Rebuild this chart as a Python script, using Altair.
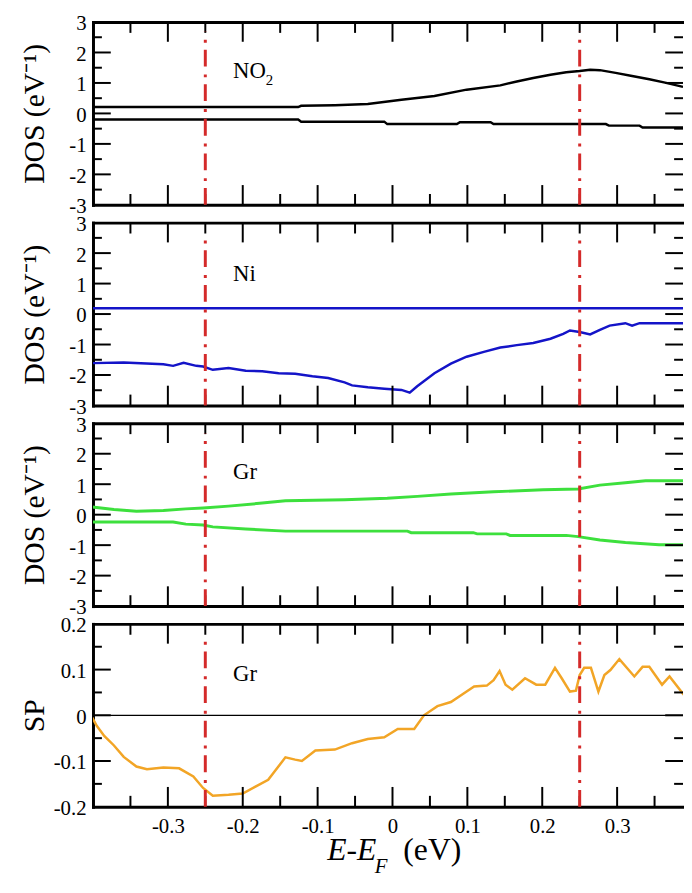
import altair as alt
import pandas as pd

FONT = "Liberation Serif"
X_DOMAIN = [-0.4, 0.388]
W, H = 597, 185

# ---- data ----
no2_up_x = [-0.40, -0.126, -0.122, -0.077, -0.033, 0.012, 0.056, 0.099, 0.144, 0.166, 0.188, 0.211, 0.232, 0.250, 0.264, 0.277, 0.298, 0.320, 0.343, 0.364, 0.388]
no2_up_y = [0.21, 0.21, 0.25, 0.27, 0.31, 0.45, 0.57, 0.78, 0.92, 1.05, 1.16, 1.27, 1.35, 1.39, 1.43, 1.42, 1.33, 1.23, 1.12, 1.01, 0.87]
no2_dn_x = [-0.40, -0.126, -0.122, -0.011, -0.007, 0.086, 0.090, 0.131, 0.135, 0.285, 0.289, 0.330, 0.334, 0.388]
no2_dn_y = [-0.20, -0.20, -0.27, -0.27, -0.35, -0.35, -0.29, -0.29, -0.35, -0.35, -0.40, -0.40, -0.46, -0.46]

ni_up_x = [-0.40, 0.389]
ni_up_y = [0.19, 0.19]
ni_dn_x = [-0.401, -0.359, -0.306, -0.293, -0.279, -0.262, -0.253, -0.240, -0.219, -0.196, -0.174, -0.152, -0.130, -0.107, -0.086, -0.064, -0.054, -0.033, -0.011, 0.012, 0.023, 0.033, 0.056, 0.078, 0.099, 0.122, 0.144, 0.166, 0.188, 0.211, 0.228, 0.237, 0.250, 0.264, 0.277, 0.290, 0.311, 0.320, 0.330, 0.389]
ni_dn_y = [-1.61, -1.59, -1.65, -1.70, -1.60, -1.70, -1.72, -1.83, -1.77, -1.86, -1.88, -1.94, -1.96, -2.04, -2.10, -2.24, -2.34, -2.40, -2.45, -2.49, -2.58, -2.37, -1.94, -1.63, -1.40, -1.24, -1.10, -1.02, -0.95, -0.81, -0.65, -0.54, -0.59, -0.67, -0.52, -0.38, -0.30, -0.38, -0.30, -0.30]

gr_up_x = [-0.401, -0.372, -0.342, -0.306, -0.276, -0.253, -0.219, -0.174, -0.143, -0.064, -0.007, 0.033, 0.078, 0.135, 0.201, 0.248, 0.277, 0.311, 0.338, 0.389]
gr_up_y = [0.25, 0.17, 0.11, 0.14, 0.19, 0.22, 0.28, 0.38, 0.46, 0.49, 0.54, 0.60, 0.68, 0.75, 0.82, 0.84, 0.97, 1.05, 1.11, 1.11]
gr_dn_x = [-0.401, -0.293, -0.276, -0.253, -0.240, -0.196, -0.143, -0.064, 0.020, 0.025, 0.108, 0.113, 0.152, 0.157, 0.232, 0.248, 0.277, 0.311, 0.356, 0.389]
gr_dn_y = [-0.24, -0.24, -0.31, -0.34, -0.40, -0.47, -0.54, -0.54, -0.54, -0.59, -0.59, -0.63, -0.63, -0.68, -0.68, -0.72, -0.83, -0.91, -0.99, -0.99]

sp_x = [-0.401, -0.395, -0.385, -0.372, -0.359, -0.342, -0.328, -0.306, -0.285, -0.266, -0.253, -0.240, -0.219, -0.200, -0.183, -0.166, -0.143, -0.130, -0.121, -0.103, -0.077, -0.054, -0.033, -0.011, 0.007, 0.029, 0.042, 0.060, 0.078, 0.099, 0.109, 0.126, 0.135, 0.143, 0.151, 0.160, 0.177, 0.192, 0.204, 0.217, 0.226, 0.237, 0.245, 0.250, 0.256, 0.265, 0.275, 0.283, 0.291, 0.303, 0.323, 0.334, 0.343, 0.360, 0.370, 0.389]
sp_y = [-0.005, -0.023, -0.045, -0.066, -0.091, -0.112, -0.118, -0.114, -0.116, -0.134, -0.159, -0.176, -0.174, -0.171, -0.156, -0.141, -0.092, -0.097, -0.100, -0.077, -0.075, -0.061, -0.052, -0.048, -0.030, -0.030, 0.000, 0.020, 0.029, 0.052, 0.063, 0.065, 0.077, 0.097, 0.067, 0.056, 0.081, 0.067, 0.067, 0.104, 0.081, 0.052, 0.054, 0.088, 0.104, 0.104, 0.052, 0.088, 0.099, 0.123, 0.085, 0.106, 0.106, 0.067, 0.085, 0.045]

fermi_marks = [-0.25, 0.25]
x_labels = [-0.3, -0.2, -0.1, 0.0, 0.1, 0.2, 0.3]
x_major = [-0.3, -0.2, -0.1, 0.0, 0.1, 0.2, 0.3]
x_minor = [-0.35, -0.25, -0.15, -0.05, 0.05, 0.15, 0.25, 0.35]
dos_labels = [-3, -2, -1, 0, 1, 2, 3]
dos_major = [-2, -1, 0, 1, 2]
dos_minor = [-2.5, -1.5, -0.5, 0.5, 1.5, 2.5]
sp_labels = [-0.2, -0.1, 0.0, 0.1, 0.2]
sp_major = [-0.1, 0.0, 0.1]
sp_minor = [-0.15, -0.05, 0.05, 0.15]

LABEL_EXPR = "toString(round(datum.value*10)/10)"
MAJOR_X, MINOR_X, MAJOR_Y, MINOR_Y = 20, 11, 18, 9


def border_axis(orient, labels=False, values=None):
    kw = dict(orient=orient, domain=True, domainColor="black", domainWidth=3,
              domainCap="square", ticks=False, tickSize=0, grid=False, title=None,
              labels=labels)
    if labels:
        kw.update(values=values, labelExpr=LABEL_EXPR, labelFont=FONT, labelFontSize=21,
                  labelColor="black", labelPadding=9)
    return alt.Axis(**kw)


def panel(curves, ydom, ylab, ymajor, yminor, ytitle, name, label_y, vtop, sub=None,
          bottom=False, zero=False):
    xs = alt.Scale(domain=X_DOMAIN, nice=False, zero=False)
    ys = alt.Scale(domain=ydom, nice=False, zero=False)
    left_axis = alt.Axis(orient="left", values=ylab, labelExpr=LABEL_EXPR, labelFont=FONT,
                         labelFontSize=21, labelColor="black", labelPadding=7, labelOffset=2,
                         ticks=False, tickSize=0, domain=True, domainColor="black",
                         domainWidth=3, domainCap="square", grid=False, title=ytitle,
                         titleFont=FONT, titleFontSize=30, titleFontWeight="normal",
                         titleColor="black", titlePadding=0, minExtent=44, maxExtent=44)

    layers = []
    for i, (cx, cy, color, sw) in enumerate(curves):
        df = pd.DataFrame({"x": cx, "y": cy})
        layers.append(alt.Chart(df).mark_line(color=color, strokeWidth=sw, clip=True).encode(
            x=alt.X("x:Q", scale=xs,
                    axis=border_axis("bottom", labels=bottom, values=x_labels) if i == 0 else None),
            y=alt.Y("y:Q", scale=ys, axis=left_axis if i == 0 else None)))

    # inward tick marks, placed at the tick values through the scales
    def xticks(values, length, top):
        y0, y1 = (0, length) if top else (H - length, H)
        return alt.Chart(pd.DataFrame({"x": values})).mark_rule(
            color="black", strokeWidth=2).encode(
            x=alt.X("x:Q", scale=xs, axis=None), y=alt.value(y0), y2=alt.value(y1))

    def yticks(values, length, left):
        x0, x1 = (0, length) if left else (W - length, W)
        return alt.Chart(pd.DataFrame({"y": values})).mark_rule(
            color="black", strokeWidth=2).encode(
            y=alt.Y("y:Q", scale=ys, axis=None), x=alt.value(x0), x2=alt.value(x1))

    layers += [xticks(x_major, MAJOR_X, True), xticks(x_minor, MINOR_X, True),
               xticks(x_major, MAJOR_X, False), xticks(x_minor, MINOR_X, False),
               yticks(ymajor, MAJOR_Y, True), yticks(yminor, MINOR_Y, True),
               yticks(ymajor, MAJOR_Y, False), yticks(yminor, MINOR_Y, False)]

    if zero:
        zdf = pd.DataFrame({"y": [0.0]})
        layers.append(alt.Chart(zdf).mark_rule(color="black", strokeWidth=1.3).encode(
            y=alt.Y("y:Q", scale=ys, axis=None)))

    vdf = pd.DataFrame({"x": fermi_marks, "y": [ydom[0]] * 2, "y2": [vtop] * 2})
    layers.append(alt.Chart(vdf).mark_rule(color="#d42a2a", strokeWidth=3,
                                           strokeDash=[17, 7, 3, 8]).encode(
        x=alt.X("x:Q", scale=xs, axis=border_axis("top")),
        y=alt.Y("y:Q", scale=ys, axis=None), y2="y2:Q"))

    ldf = pd.DataFrame({"x": [-0.213], "y": [label_y], "t": [name]})
    layers.append(alt.Chart(ldf).mark_text(font=FONT, fontSize=23, align="left",
                                           baseline="alphabetic", color="black").encode(
        x=alt.X("x:Q", scale=xs, axis=None), y=alt.Y("y:Q", scale=ys, axis=None),
        text="t:N"))
    if sub:
        sdf = pd.DataFrame({"x": [-0.213], "y": [label_y], "t": [sub]})
        layers.append(alt.Chart(sdf).mark_text(font=FONT, fontSize=15, align="left",
                                               baseline="alphabetic", dx=33, dy=7,
                                               color="black").encode(
            x=alt.X("x:Q", scale=xs, axis=None), y=alt.Y("y:Q", scale=ys, axis=None),
            text="t:N"))
    if bottom:
        parts = [("E-E", 237, H + 54, 32, "italic"), ("F", 285, H + 67, 21, "italic"),
                 ("(eV)", 314, H + 54, 32, "normal")]
        for t, px, py, fs, style in parts:
            layers.append(alt.Chart(pd.DataFrame({"t": [t]})).mark_text(
                font=FONT, fontSize=fs, fontStyle=style, align="left",
                baseline="alphabetic", color="black").encode(
                x=alt.value(px), y=alt.value(py), text="t:N"))

    return alt.layer(*layers).resolve_axis(x="independent", y="independent").properties(
        width=W, height=H)


p1 = panel([(no2_up_x, no2_up_y, "black", 2.5), (no2_dn_x, no2_dn_y, "black", 2.5)],
           [-3, 3], dos_labels, dos_major, dos_minor, "DOS (eV⁻¹)", "NO", 1.17, 2.68, sub="2")
p2 = panel([(ni_up_x, ni_up_y, "#1414c8", 2.5), (ni_dn_x, ni_dn_y, "#1414c8", 2.5)],
           [-3, 3], dos_labels, dos_major, dos_minor, "DOS (eV⁻¹)", "Ni", 1.08, 2.65)
p3 = panel([(gr_up_x, gr_up_y, "#3de03d", 3), (gr_dn_x, gr_dn_y, "#3de03d", 3)],
           [-3, 3], dos_labels, dos_major, dos_minor, "DOS (eV⁻¹)", "Gr", 1.17, 2.68)
p4 = panel([(sp_x, sp_y, "#f2a526", 2.5)],
           [-0.2, 0.2], sp_labels, sp_major, sp_minor, "SP", "Gr", 0.076, 0.176,
           bottom=True, zero=True)

chart = alt.vconcat(p1, p2, p3, p4, spacing=-3).properties(
    padding={"left": 12, "top": 0, "right": 0, "bottom": 0}
).configure_view(strokeWidth=0)

chart.save("out.html", embed_options={"renderer": "svg", "actions": False})
